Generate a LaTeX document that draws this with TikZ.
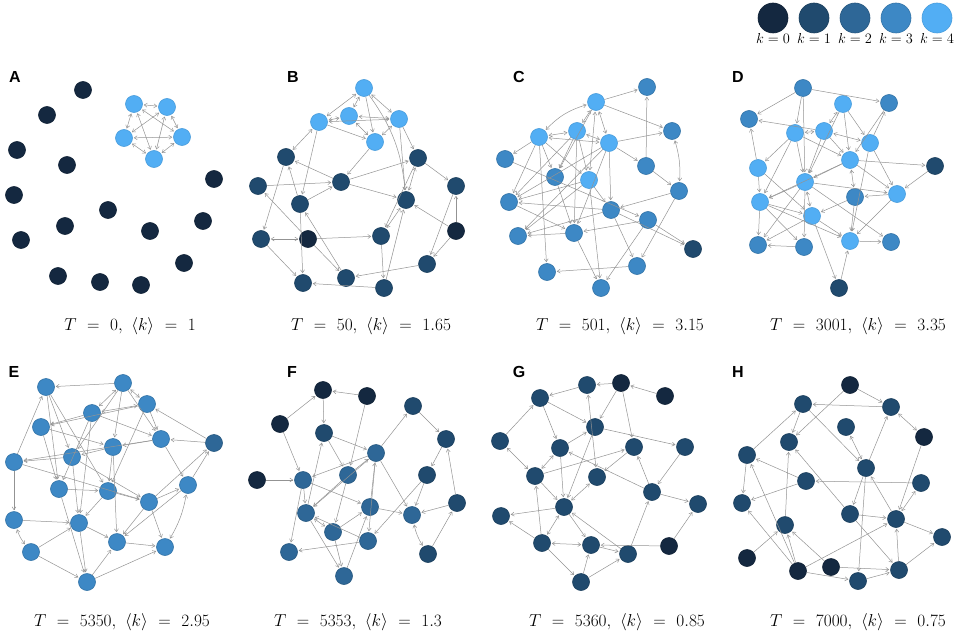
\documentclass[tikz,border=0pt]{standalone}
\usepackage{amsmath}
\usepackage{amssymb}
\usepackage{fontspec}
\usepackage{tikz}
\usepackage{xcolor}
\usetikzlibrary{arrows.meta}
\newfontfamily\panelfont{Liberation Sans}
\definecolor{kzero}{HTML}{142840}
\definecolor{kone}{HTML}{204A6E}
\definecolor{ktwo}{HTML}{2E6797}
\definecolor{kthree}{HTML}{3D88C5}
\definecolor{kfour}{HTML}{52AEF4}
\newcommand{\capsp}{\mskip6mu}
\tikzset{
    vtx/.style={circle, minimum size=17pt, inner sep=0pt, line width=0.6pt},
    k0/.style={vtx, fill=kzero, draw=kzero!85!black},
    k1/.style={vtx, fill=kone, draw=kone!85!black},
    k2/.style={vtx, fill=ktwo, draw=ktwo!85!black},
    k3/.style={vtx, fill=kthree, draw=kthree!85!black},
    k4/.style={vtx, fill=kfour, draw=kfour!90!black},
    arr/.style={draw=gray!85, line width=0.5pt, shorten >=1pt, -{Straight Barb[length=3pt,width=4pt]}},
    bi/.style={arr, shorten <=1pt, {Straight Barb[length=3pt,width=4pt]}-{Straight Barb[length=3pt,width=4pt]}},
    panel/.style={font=\panelfont\bfseries\fontsize{16}{18}\selectfont, inner sep=0pt},
    caption/.style={font=\fontsize{18}{21}\selectfont, inner sep=0pt},
    legend/.style={circle, minimum size=30pt, inner sep=0pt, line width=0.6pt},
    leglabel/.style={font=\fontsize{15}{17}\selectfont, yshift=3pt},
}

\begin{document}
\begin{tikzpicture}[x=1pt, y=-1pt]
        \useasboundingbox (0,0) rectangle (957,639);

        \node[legend, fill=kzero, draw=kzero!85!black, label={[leglabel]-90:$k=0$}] (lg0) at (773,18) {};
        \node[legend, fill=kone, draw=kone!85!black, label={[leglabel]-90:$k=1$}] (lg1) at (814,18) {};
        \node[legend, fill=ktwo, draw=ktwo!85!black, label={[leglabel]-90:$k=2$}] (lg2) at (855,18) {};
        \node[legend, fill=kthree, draw=kthree!85!black, label={[leglabel]-90:$k=3$}] (lg3) at (896,18) {};
        \node[legend, fill=kfour, draw=kfour!90!black, label={[leglabel]-90:$k=4$}] (lg4) at (937,18) {};

        \node[panel] (pA) at (15,77) {A};
        \node[panel] (pB) at (293,77) {B};
        \node[panel] (pC) at (519,77) {C};
        \node[panel] (pD) at (738,77) {D};
        \node[panel] (pE) at (14,372) {E};
        \node[panel] (pF) at (292,372) {F};
        \node[panel] (pG) at (519,372) {G};
        \node[panel] (pH) at (738,372) {H};

        \node[caption] (tA) at (130,326) {$T \capsp=\capsp 0,\capsp \langle k\rangle \capsp=\capsp 1$};
        \node[caption] (tB) at (371,326) {$T \capsp=\capsp 50,\capsp \langle k\rangle \capsp=\capsp 1.65$};
        \node[caption] (tC) at (620,326) {$T \capsp=\capsp 501,\capsp \langle k\rangle \capsp=\capsp 3.15$};
        \node[caption] (tD) at (858,326) {$T \capsp=\capsp 3001,\capsp \langle k\rangle \capsp=\capsp 3.35$};
        \node[caption] (tE) at (122,622) {$T \capsp=\capsp 5350,\capsp \langle k\rangle \capsp=\capsp 2.95$};
        \node[caption] (tF) at (358,622) {$T \capsp=\capsp 5353,\capsp \langle k\rangle \capsp=\capsp 1.3$};
        \node[caption] (tG) at (617,622) {$T \capsp=\capsp 5360,\capsp \langle k\rangle \capsp=\capsp 0.85$};
        \node[caption] (tH) at (858,622) {$T \capsp=\capsp 7000,\capsp \langle k\rangle \capsp=\capsp 0.75$};

        \node[k4] (a1) at (134,104) {};
        \node[k4] (a2) at (167,107) {};
        \node[k4] (a3) at (124,138) {};
        \node[k4] (a4) at (182,137) {};
        \node[k4] (a5) at (154,159) {};
        \node[k0] (a6) at (83,90) {};
        \node[k0] (a7) at (47,115) {};
        \node[k0] (a8) at (17,150) {};
        \node[k0] (a9) at (67,165) {};
        \node[k0] (a10) at (14,195) {};
        \node[k0] (a11) at (214,179) {};
        \node[k0] (a12) at (108,210) {};
        \node[k0] (a13) at (65,226) {};
        \node[k0] (a14) at (203,221) {};
        \node[k0] (a15) at (150,231) {};
        \node[k0] (a16) at (21,240) {};
        \node[k0] (a17) at (184,263) {};
        \node[k0] (a18) at (58,276) {};
        \node[k0] (a19) at (100,282) {};
        \node[k0] (a20) at (141,285) {};

        \path[bi] (a1) edge (a2) edge (a3) edge (a4) edge (a5)
            (a2) edge (a3) edge (a4) edge (a5)
            (a3) edge (a4) edge (a5)
            (a4) edge (a5);

        \node[k4] (b1) at (364,88) {};
        \node[k4] (b2) at (319,122) {};
        \node[k4] (b3) at (349,116) {};
        \node[k4] (b4) at (399,119) {};
        \node[k4] (b5) at (375,142) {};
        \node[k1] (b6) at (286,157) {};
        \node[k1] (b7) at (418,158) {};
        \node[k1] (b8) at (341,182) {};
        \node[k1] (b9) at (258,186) {};
        \node[k1] (b10) at (456,186) {};
        \node[k1] (b11) at (300,204) {};
        \node[k1] (b12) at (406,200) {};
        \node[k1] (b13) at (261,239) {};
        \node[k0] (b14) at (308,239) {};
        \node[k1] (b15) at (381,236) {};
        \node[k0] (b16) at (456,231) {};
        \node[k1] (b17) at (427,264) {};
        \node[k1] (b18) at (346,278) {};
        \node[k1] (b19) at (303,283) {};
        \node[k1] (b20) at (384,288) {};

        \path[bi] (b1) edge (b2) edge (b3) edge (b4)
            (b2) edge (b3) edge (b4) edge (b6)
            (b3) edge (b4) edge (b5)
            (b4) edge (b5)
            (b12) edge (b15) (b7) edge (b12) (b13) edge (b14);
        \path[arr] (b1) edge (b5) edge[bend left=15] (b12)
            (b2) edge (b5) edge (b11)
            (b4) edge (b7) edge (b12)
            (b5) edge (b8)
            (b8) edge (b6) edge (b12) edge (b7)
            (b9) edge (b8)
            (b11) edge (b8) edge (b6) edge (b19)
            (b6) edge (b13)
            (b14) edge (b15) edge (b18) edge (b9)
            (b18) edge (b11)
            (b13) edge (b19)
            (b20) edge (b19) edge (b12)
            (b17) edge (b18)
            (b15) edge (b20)
            (b16) edge (b12) edge (b10) edge (b17)
            (b10) edge (b17)
            (b7) edge (b10) edge (b15);

        \node[k4] (c1) at (596,102) {};
        \node[k4] (c2) at (539,137) {};
        \node[k4] (c3) at (577,131) {};
        \node[k4] (c4) at (609,143) {};
        \node[k4] (c5) at (589,180) {};
        \node[k3] (c6) at (647,87) {};
        \node[k3] (c7) at (672,131) {};
        \node[k3] (c8) at (505,159) {};
        \node[k3] (c9) at (555,177) {};
        \node[k3] (c10) at (646,166) {};
        \node[k3] (c11) at (679,191) {};
        \node[k3] (c12) at (509,202) {};
        \node[k3] (c13) at (611,210) {};
        \node[k3] (c14) at (648,220) {};
        \node[k3] (c15) at (518,236) {};
        \node[k3] (c16) at (574,233) {};
        \node[k3] (c17) at (637,266) {};
        \node[k3] (c18) at (547,272) {};
        \node[k3] (c19) at (601,288) {};
        \node[k1] (c20) at (693,249) {};

        \path[bi] (c1) edge[bend right=15] (c2) edge (c3) edge (c4) edge (c5)
            (c2) edge (c3) edge (c4)
            (c3) edge (c4)
            (c7) edge[bend left=10] (c11);
        \path[arr] (c1) edge (c6) edge (c7) edge (c9)
            (c2) edge (c8) edge (c5) edge (c12) edge (c18) edge (c9)
            (c3) edge (c9) edge (c5) edge (c16) edge (c12)
            (c4) edge (c7) edge (c10) edge (c13) edge (c16) edge (c15) edge (c12)
            (c10) edge (c6) edge (c11)
            (c8) edge (c14)
            (c5) edge (c19) edge (c12) edge (c13) edge (c15)
            (c13) edge (c15) edge (c12) edge (c17) edge (c20)
            (c11) edge (c13) edge (c17)
            (c14) edge (c16) edge (c19) edge (c20)
            (c17) edge (c18)
            (c16) edge (c15) edge (c19)
            (c9) edge (c16)
            (c12) edge (c16);

        \node[k3] (d1) at (803,88) {};
        \node[k3] (d2) at (749,119) {};
        \node[k3] (d3) at (889,103) {};
        \node[k4] (d4) at (843,104) {};
        \node[k4] (d5) at (795,133) {};
        \node[k4] (d6) at (824,131) {};
        \node[k4] (d7) at (870,143) {};
        \node[k4] (d8) at (850,160) {};
        \node[k4] (d9) at (758,168) {};
        \node[k1] (d10) at (935,166) {};
        \node[k4] (d11) at (805,182) {};
        \node[k3] (d12) at (855,197) {};
        \node[k4] (d13) at (897,194) {};
        \node[k4] (d14) at (760,202) {};
        \node[k4] (d15) at (812,216) {};
        \node[k3] (d16) at (758,245) {};
        \node[k3] (d17) at (804,247) {};
        \node[k4] (d18) at (850,241) {};
        \node[k3] (d19) at (891,242) {};
        \node[k1] (d20) at (839,288) {};

        \path[bi] (d4) edge (d6) (d5) edge (d6) (d6) edge (d7)
            (d8) edge (d12) (d15) edge (d11);
        \path[arr] (d1) edge (d3) edge (d2) edge (d11) edge (d5)
            (d6) edge (d2) edge (d8) edge (d11)
            (d9) edge (d2) edge (d14) edge (d15)
            (d4) edge (d8) edge (d7) edge (d11)
            (d3) edge (d8)
            (d7) edge (d3) edge (d13) edge (d18)
            (d5) edge (d8) edge (d9) edge (d11) edge (d14)
            (d8) edge (d10) edge (d11) edge (d13) edge (d14)
            (d10) edge (d13)
            (d11) edge (d14) edge (d19) edge (d16) edge (d17) edge (d13)
            (d14) edge (d15) edge (d16) edge (d17) edge (d18)
            (d15) edge (d18) edge (d20) edge (d16)
            (d12) edge (d18) edge (d15)
            (d13) edge (d18) edge (d12)
            (d18) edge (d19)
            (d20) edge (d18)
            (d17) edge (d16);

        \node[k3] (e1) at (46,387) {};
        \node[k3] (e2) at (123,383) {};
        \node[k3] (e3) at (147,404) {};
        \node[k3] (e4) at (92,413) {};
        \node[k3] (e5) at (41,427) {};
        \node[k3] (e6) at (161,439) {};
        \node[k3] (e7) at (113,447) {};
        \node[k3] (e8) at (14,462) {};
        \node[k3] (e9) at (72,457) {};
        \node[k3] (e10) at (188,485) {};
        \node[k3] (e11) at (59,489) {};
        \node[k3] (e12) at (108,491) {};
        \node[k3] (e13) at (149,502) {};
        \node[k3] (e14) at (14,520) {};
        \node[k3] (e15) at (79,523) {};
        \node[k3] (e16) at (117,542) {};
        \node[k3] (e17) at (31,552) {};
        \node[k3] (e18) at (165,547) {};
        \node[k3] (e19) at (87,582) {};
        \node[k2] (e20) at (214,443) {};

        \path[bi] (e2) edge (e4) edge (e3)
            (e3) edge (e4)
            (e14) edge[bend right=10] (e17)
            (e10) edge[bend left=10] (e18);
        \path[arr] (e2) edge (e1) edge (e6) edge (e9) edge (e7)
            (e3) edge (e6) edge (e5) edge (e12)
            (e20) edge (e3) edge (e6)
            (e13) edge (e20) (e10) edge (e20)
            (e1) edge (e9) edge (e12) edge (e11)
            (e8) edge (e1) edge (e14) edge (e13)
            (e4) edge (e5) edge (e6) edge (e15) edge (e11)
            (e5) edge (e7) edge (e11)
            (e6) edge (e7) edge (e8) edge (e10)
            (e7) edge (e9) edge (e12) edge (e16)
            (e9) edge (e8) edge (e13) edge (e15)
            (e11) edge (e12) edge (e19)
            (e12) edge (e13) edge (e15)
            (e13) edge (e10) edge (e18) edge (e16)
            (e10) edge (e16)
            (e14) edge (e15)
            (e15) edge (e16) edge (e19)
            (e17) edge (e15) edge (e19)
            (e16) edge (e18)
            (e19) edge (e16) edge (e18);

        \node[k0] (f1) at (323,390) {};
        \node[k0] (f2) at (367,396) {};
        \node[k0] (f3) at (280,424) {};
        \node[k0] (f4) at (257,480) {};
        \node[k1] (f5) at (413,406) {};
        \node[k1] (f6) at (446,439) {};
        \node[k1] (f7) at (324,433) {};
        \node[k1] (f8) at (427,475) {};
        \node[k1] (f9) at (457,503) {};
        \node[k1] (f10) at (428,554) {};
        \node[k2] (f11) at (376,453) {};
        \node[k2] (f12) at (303,480) {};
        \node[k2] (f13) at (348,475) {};
        \node[k2] (f14) at (306,513) {};
        \node[k2] (f15) at (370,507) {};
        \node[k2] (f16) at (412,515) {};
        \node[k2] (f17) at (333,532) {};
        \node[k2] (f18) at (368,541) {};
        \node[k2] (f19) at (289,552) {};
        \node[k2] (f20) at (344,576) {};

        \path[bi] (f10) edge[bend left=10] (f16) (f14) edge (f17);
        \path[arr] (f2) edge (f1) edge (f13)
            (f3) edge (f1) edge (f12)
            (f1) edge (f7)
            (f4) edge (f12)
            (f7) edge (f11) edge (f13)
            (f11) edge (f5) edge (f12) edge (f14) edge (f16) edge (f18)
            (f5) edge (f6)
            (f6) edge (f8)
            (f8) edge (f16) edge (f18)
            (f9) edge (f16) edge (f6)
            (f10) edge (f9)
            (f12) edge (f19) edge (f14) edge (f15)
            (f13) edge (f14) edge (f17) edge (f11)
            (f14) edge (f7) edge (f20)
            (f17) edge (f20) edge (f15)
            (f15) edge (f11) edge (f16)
            (f18) edge (f19) edge (f14)
            (f20) edge (f15);

        \node[k0] (g1) at (621,383) {};
        \node[k0] (g2) at (665,396) {};
        \node[k0] (g3) at (669,546) {};
        \node[k1] (g4) at (587,385) {};
        \node[k1] (g5) at (540,398) {};
        \node[k1] (g6) at (595,427) {};
        \node[k1] (g7) at (500,441) {};
        \node[k1] (g8) at (560,448) {};
        \node[k1] (g9) at (634,447) {};
        \node[k1] (g10) at (685,447) {};
        \node[k1] (g11) at (535,476) {};
        \node[k1] (g12) at (597,477) {};
        \node[k1] (g13) at (652,492) {};
        \node[k1] (g14) at (564,507) {};
        \node[k1] (g15) at (698,504) {};
        \node[k1] (g16) at (501,516) {};
        \node[k1] (g17) at (542,543) {};
        \node[k1] (g18) at (591,545) {};
        \node[k1] (g19) at (628,554) {};
        \node[k1] (g20) at (581,582) {};

        \path[bi] (g7) edge (g11) (g8) edge (g11) (g12) edge (g14)
            (g17) edge (g14) edge (g18) (g4) edge (g12);
        \path[arr] (g1) edge (g4) edge (g6) edge (g9)
            (g2) edge (g1)
            (g4) edge (g5)
            (g5) edge (g6) edge (g8)
            (g7) edge (g5)
            (g6) edge (g10) edge (g14)
            (g8) edge (g6) edge (g14)
            (g9) edge (g12)
            (g11) edge (g9) edge (g14)
            (g10) edge (g13)
            (g13) edge (g9) edge (g8) edge (g15)
            (g14) edge (g16) edge (g18)
            (g17) edge (g16) edge (g11) edge (g20)
            (g18) edge (g19)
            (g19) edge (g14) edge (g13)
            (g3) edge (g18) edge (g15)
            (g20) edge (g18) edge (g19);

        \node[k0] (h1) at (850,385) {};
        \node[k0] (h2) at (924,437) {};
        \node[k0] (h3) at (747,558) {};
        \node[k0] (h4) at (798,571) {};
        \node[k0] (h5) at (831,567) {};
        \node[k1] (h6) at (803,404) {};
        \node[k1] (h7) at (891,407) {};
        \node[k1] (h8) at (846,427) {};
        \node[k1] (h9) at (789,442) {};
        \node[k1] (h10) at (747,455) {};
        \node[k1] (h11) at (866,468) {};
        \node[k1] (h12) at (806,481) {};
        \node[k1] (h13) at (921,483) {};
        \node[k1] (h14) at (742,503) {};
        \node[k1] (h15) at (850,514) {};
        \node[k1] (h16) at (896,519) {};
        \node[k1] (h17) at (785,525) {};
        \node[k1] (h18) at (942,537) {};
        \node[k1] (h19) at (899,570) {};
        \node[k1] (h20) at (858,581) {};

        \path[bi] (h7) edge (h2) (h13) edge (h16) (h8) edge (h11);
        \path[arr] (h1) edge (h7) edge (h9)
            (h7) edge (h6)
            (h11) edge (h7) edge (h15) edge (h20)
            (h6) edge (h9) edge (h11)
            (h10) edge (h6) edge (h14)
            (h12) edge (h10) edge (h14)
            (h13) edge (h12)
            (h2) edge (h16)
            (h16) edge (h11) edge (h18)
            (h15) edge (h9) edge (h16) edge (h19)
            (h19) edge (h16) edge (h18)
            (h17) edge (h9)
            (h3) edge (h17)
            (h4) edge (h10) edge (h14) edge (h17) edge (h16) edge (h20)
            (h5) edge (h17) edge (h19)
            (h20) edge (h19);
\end{tikzpicture}
\end{document}
